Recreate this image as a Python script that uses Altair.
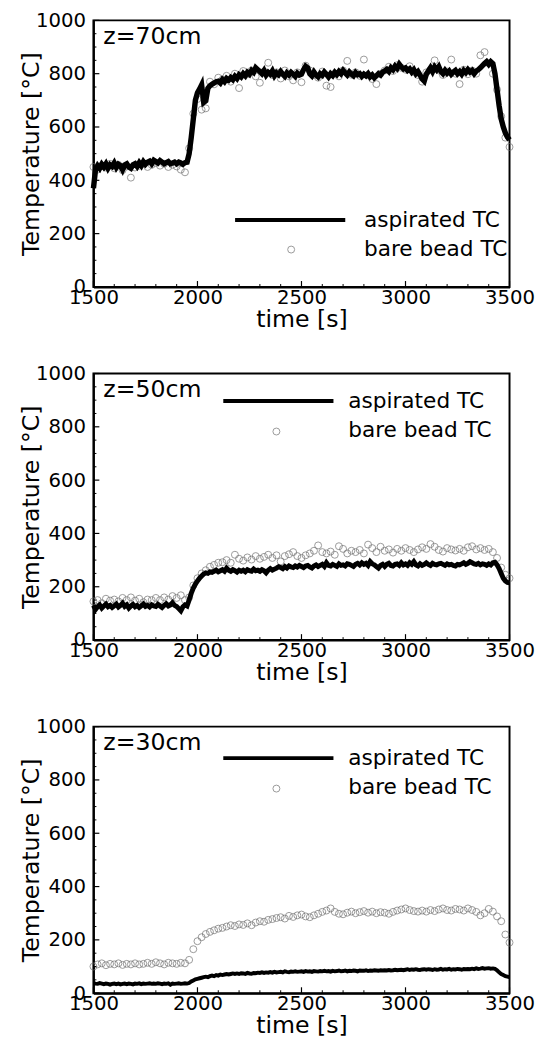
import altair as alt
import pandas as pd

# ---------------- data ----------------
T_LINE = list(range(1500, 3501, 10))
T_CIRC = list(range(1500, 3501, 20))

X_MAJOR = [1500, 2000, 2500, 3000, 3500]
X_MINOR = [t for t in range(1500, 3501, 100) if t not in X_MAJOR]
Y_MAJOR = [0, 200, 400, 600, 800, 1000]
Y_MINOR = [v for v in range(0, 1001, 50) if v not in Y_MAJOR]

P70_ASP = [
    370, 440, 455, 445, 460, 450, 462, 445, 458, 452,
    465, 448, 460, 455, 440, 458, 462, 450, 445, 458,
    462, 452, 466, 455, 470, 460, 468, 472, 462, 475,
    470, 465, 474, 468, 462, 466, 470, 462, 465, 468,
    462, 468, 465, 460, 466, 468, 500, 560, 630, 700,
    728, 742, 758, 692, 698, 745, 755, 760, 765, 770,
    772, 765, 778, 770, 782, 776, 785, 778, 790, 782,
    795, 788, 800, 792, 805, 798, 812, 805, 822, 815,
    808, 800, 812, 795, 805, 798, 810, 792, 803, 796,
    808, 798, 790, 803, 795, 805, 798, 790, 802, 795,
    798, 815, 828, 822, 800, 792, 806, 795, 788, 800,
    794, 806, 798, 788, 800, 793, 805, 797, 808, 800,
    812, 803, 795, 806, 798, 792, 804, 796, 800, 790,
    798, 792, 800, 788, 795, 785, 792, 800, 795, 806,
    810, 816, 808, 822, 815, 828, 820, 835, 825, 818,
    822, 812, 818, 806, 815, 800, 808, 795, 780, 772,
    798, 810, 822, 808, 825, 815, 826, 808, 800, 812,
    802, 810, 798, 806, 812, 800, 808, 798, 812, 804,
    815, 806, 812, 800, 810, 815, 822, 830, 838, 845,
    835, 845, 838, 800, 740, 680, 630, 600, 578, 562,
    552,
]
P70_BARE = [
    450, 440, 455, 448, 462, 445, 458, 438, 452, 410,
    448, 455, 462, 450, 458, 465, 455, 462, 450, 458,
    452, 440, 430, 520, 650, 705, 665, 670, 770, 760,
    785, 778, 792, 770, 800, 746, 810, 798, 812, 790,
    766, 808, 841, 795, 805, 782, 812, 790, 775, 805,
    768, 830, 812, 795, 785, 808, 755, 750, 800, 790,
    812, 848, 796, 805, 792, 853, 795, 780, 761, 800,
    812, 826, 810, 832, 822, 815, 828, 806, 795, 770,
    805, 815, 850, 812, 795, 808, 853, 800, 761, 815,
    798, 812, 800, 869, 881, 840, 800, 740, 640, 560,
    525,
]
P50_ASP = [
    130, 115, 125, 132, 120, 128, 135, 125, 130, 122,
    128, 135, 124, 130, 138, 126, 132, 120, 128, 134,
    125, 130, 122, 128, 135, 126, 130, 124, 132, 128,
    126, 134, 128, 122, 130, 136, 128, 132, 140, 130,
    126, 118, 110, 125, 132, 128, 150, 175, 195, 210,
    222, 232, 240, 248, 252, 250, 256, 254, 258, 262,
    256, 260, 264, 258, 270, 262, 258, 264, 260, 255,
    262, 258, 262, 256, 264, 260, 258, 266, 260, 262,
    258, 264, 260, 252, 262, 268, 262, 266, 270, 275,
    272, 268, 276, 270, 278, 274, 272, 278, 274, 280,
    276, 272, 278, 280, 274, 270, 278, 282, 276, 280,
    284, 276, 290, 280, 278, 284, 280, 276, 286, 280,
    282, 278, 286, 284, 280, 276, 284, 288, 282, 290,
    284, 288, 280, 294, 286, 282, 276, 270, 280, 284,
    276, 284, 288, 280, 278, 284, 286, 280, 290, 282,
    286, 280, 290, 284, 294, 282, 278, 286, 280, 284,
    290, 284, 280, 288, 284, 282, 286, 288, 284, 280,
    286, 282, 284, 280, 278, 284, 282, 286, 290, 284,
    288, 294, 290, 286, 284, 288, 282, 286, 284, 280,
    286, 282, 290, 292, 282, 268, 250, 232, 222, 216,
    215,
]
P50_BARE = [
    145, 150, 138, 155, 148, 152, 145, 158, 150, 160,
    148, 155, 142, 152, 150, 158, 150, 160, 152, 165,
    158, 168, 150, 160, 205, 232, 250, 262, 275, 282,
    290, 292, 300, 290, 320, 305, 298, 310, 302, 315,
    305, 312, 320, 308, 318, 295, 315, 322, 330, 315,
    308, 318, 325, 335, 355, 330, 325, 332, 320, 352,
    342, 325, 335, 330, 338, 325, 358, 345, 330, 350,
    335, 340, 328, 342, 335, 345, 338, 330, 340, 348,
    342, 360, 350, 338, 332, 345, 340, 336, 342, 335,
    348, 352, 340, 345, 338, 342, 330, 308, 272, 245,
    232,
]
P30_ASP = [
    38, 36, 35, 38, 36, 34, 36, 35, 32, 35,
    36, 34, 36, 33, 35, 36, 34, 36, 35, 33,
    36, 35, 37, 34, 36, 35, 36, 37, 35, 36,
    35, 37, 36, 34, 36, 35, 37, 32, 36, 35,
    36, 37, 35, 36, 37, 36, 38, 44, 48, 52,
    54, 56, 58, 60, 62, 60, 64, 66, 64, 68,
    66, 70, 68, 70, 72, 70, 72, 74, 72, 74,
    72, 75, 74, 72, 76, 74, 73, 76, 75, 77,
    76, 78, 76, 78, 77, 79, 77, 80, 78, 79,
    80, 78, 82, 80, 79, 81, 80, 82, 80, 81,
    82, 80, 83, 81, 82, 80, 83, 82, 81, 83,
    82, 84, 82, 83, 81, 84, 82, 83, 85, 82,
    83, 85, 82, 84, 83, 85, 84, 82, 85, 84,
    84, 86, 83, 85, 84, 86, 85, 84, 86, 85,
    86, 85, 87, 85, 86, 88, 86, 87, 88, 86,
    88, 90, 87, 89, 88, 90, 88, 87, 89, 90,
    88, 90, 89, 87, 90, 88, 89, 91, 88, 90,
    89, 91, 88, 90, 89, 91, 90, 88, 91, 90,
    91, 90, 92, 90, 93, 91, 92, 94, 92, 93,
    94, 92, 93, 91, 86, 78, 72, 68, 64, 62,
    60,
]
P30_BARE = [
    100, 108, 112, 105, 110, 108, 112, 106, 110, 108,
    112, 108, 110, 114, 110, 116, 112, 108, 114, 112,
    110, 114, 112, 125, 165, 195, 210, 222, 230, 236,
    242, 245, 250, 255, 252, 258, 256, 262, 255, 265,
    270, 268, 275, 278, 282, 285, 280, 290, 286, 292,
    295, 288, 285, 292, 298, 305, 310, 318, 305, 298,
    296, 302, 306, 300, 304, 308, 302, 306, 300, 304,
    302, 298, 305, 310, 314, 318, 312, 308, 306, 310,
    306, 312, 308, 314, 318, 312, 310, 316, 314, 310,
    318, 312, 305, 292, 300, 316, 306, 288, 270, 220,
    190,
]

PANEL_LABELS = ["z=70cm", "z=50cm", "z=30cm"]
SERIES_NAMES = ["aspirated TC", "bare bead TC"]

# ---------------- style ----------------
W, H = 423, 271
FONT = "DejaVu Sans"
CIRCLE_GRAY = "#6f6f6f"
CIRCLE_SIZE = 50

xs = alt.Scale(domain=[1500, 3500], nice=False, zero=False)
ys = alt.Scale(domain=[0, 1000], nice=False, zero=False)


def make_panel(label, asp, bare, leg):
    df_line = pd.DataFrame({"t": T_LINE, "v": asp})
    df_circ = pd.DataFrame({"t": T_CIRC, "v": bare})

    xaxis = alt.Axis(values=X_MAJOR, format="d", title="time [s]", ticks=False,
                     grid=False, labelFlush=False, labelPadding=1, titlePadding=0,
                     domainColor="black", domainWidth=2, labelFontSize=20,
                     titleFontSize=24, labelColor="black", titleColor="black",
                     titleFontWeight="normal")
    yaxis = alt.Axis(values=Y_MAJOR, format="d", title="Temperature [°C]", ticks=False,
                     grid=False, labelFlush=False, labelPadding=8, titleX=-51,
                     domainColor="black", domainWidth=2, labelFontSize=20,
                     titleFontSize=24, labelColor="black", titleColor="black",
                     titleFontWeight="normal")

    circles = alt.Chart(df_circ).mark_point(
        shape="circle", filled=False, size=CIRCLE_SIZE, color=CIRCLE_GRAY, strokeWidth=1
    ).encode(x=alt.X("t:Q", scale=xs, axis=xaxis), y=alt.Y("v:Q", scale=ys, axis=yaxis))

    line = alt.Chart(df_line).mark_line(color="black", strokeWidth=leg["lw"]).encode(
        x=alt.X("t:Q", scale=xs), y=alt.Y("v:Q", scale=ys))

    xmaj = alt.Chart(pd.DataFrame({"t": X_MAJOR})).mark_rule(color="black", strokeWidth=1.2).encode(
        x=alt.X("t:Q", scale=xs), y=alt.value(H), y2=alt.value(H - 6))
    xmin = alt.Chart(pd.DataFrame({"t": X_MINOR})).mark_rule(color="black", strokeWidth=1).encode(
        x=alt.X("t:Q", scale=xs), y=alt.value(H), y2=alt.value(H - 3))
    ymaj = alt.Chart(pd.DataFrame({"v": Y_MAJOR})).mark_rule(color="black", strokeWidth=1.2).encode(
        y=alt.Y("v:Q", scale=ys), x=alt.value(0), x2=alt.value(6))
    ymin = alt.Chart(pd.DataFrame({"v": Y_MINOR})).mark_rule(color="black", strokeWidth=1).encode(
        y=alt.Y("v:Q", scale=ys), x=alt.value(0), x2=alt.value(3))

    one = pd.DataFrame({"label": [label]})
    zlab = alt.Chart(one).mark_text(align="left", baseline="middle", fontSize=24,
                                    color="black").encode(
        text="label:N", x=alt.value(10), y=alt.value(17))

    names = pd.DataFrame({"name": SERIES_NAMES})
    leg_line = alt.Chart(names.iloc[:1]).mark_rule(color="black", strokeWidth=4).encode(
        x=alt.value(leg["lx1"]), x2=alt.value(leg["lx2"]), y=alt.value(leg["y1"]))
    leg_pt = alt.Chart(names.iloc[1:]).mark_point(
        shape="circle", filled=False, size=CIRCLE_SIZE, color=CIRCLE_GRAY, strokeWidth=1).encode(
        x=alt.value(leg["px"]), y=alt.value(leg["py"]))
    leg_t1 = alt.Chart(names.iloc[:1]).mark_text(align="left", baseline="middle", fontSize=22,
                                                 color="black").encode(
        text="name:N", x=alt.value(leg["tx"]), y=alt.value(leg["y1"]))
    leg_t2 = alt.Chart(names.iloc[1:]).mark_text(align="left", baseline="middle", fontSize=22,
                                                 color="black").encode(
        text="name:N", x=alt.value(leg["tx"]), y=alt.value(leg["y2"]))

    return alt.layer(circles, line, xmaj, xmin, ymaj, ymin, zlab,
                     leg_line, leg_pt, leg_t1, leg_t2).properties(width=W, height=H)


LEG70 = dict(lx1=144, lx2=256, tx=275, y1=203, y2=233, px=201, py=233, lw=5.5)
LEG50 = dict(lx1=132, lx2=244, tx=259, y1=28, y2=58, px=186, py=59, lw=5)
LEG30 = dict(lx1=132, lx2=244, tx=259, y1=32, y2=61, px=186, py=63, lw=4)

p1 = make_panel(PANEL_LABELS[0], P70_ASP, P70_BARE, LEG70)
p2 = make_panel(PANEL_LABELS[1], P50_ASP, P50_BARE, LEG50)
p3 = make_panel(PANEL_LABELS[2], P30_ASP, P30_BARE, LEG30)

chart = alt.vconcat(p1, p2, p3, spacing=88).properties(
    bounds="flush",
    padding={"left": 18, "top": 1, "right": 5, "bottom": 0},
    background="white",
).configure(font=FONT).configure_view(stroke="black", strokeWidth=2)

chart.save("out.html", embed_options={"renderer": "svg", "actions": False})
